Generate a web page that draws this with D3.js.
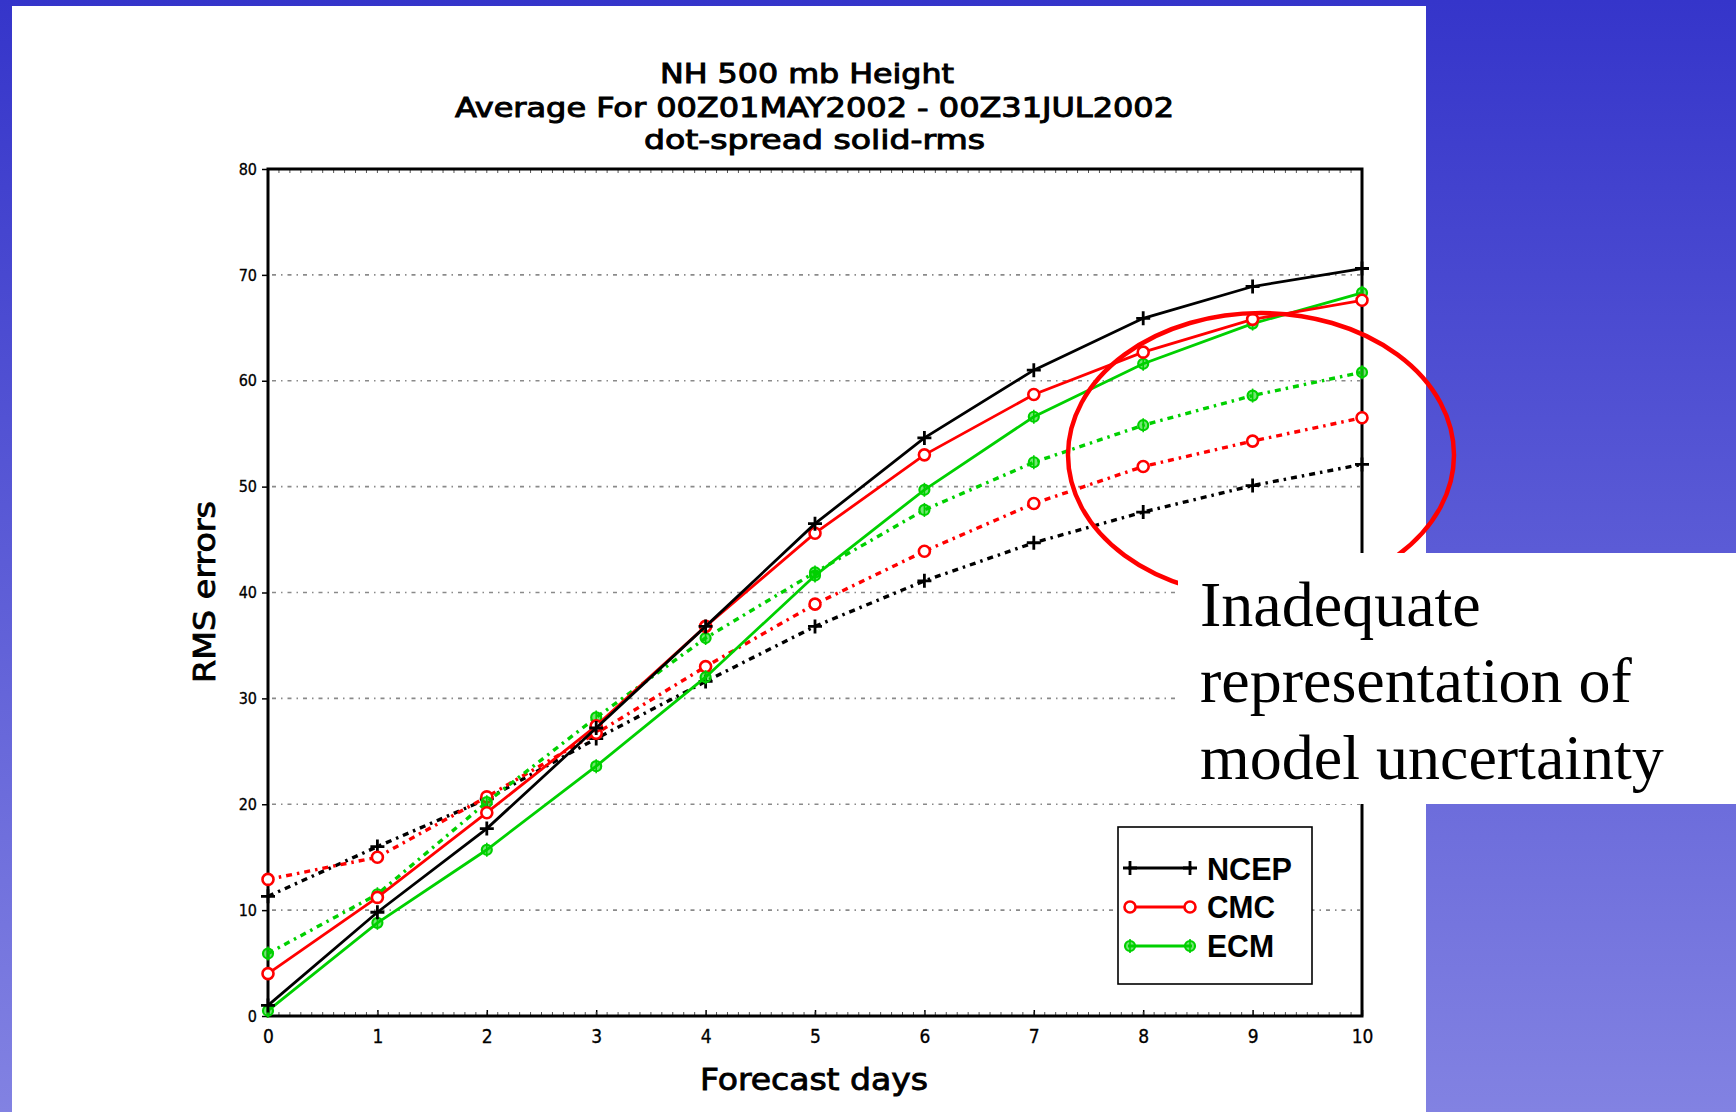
<!DOCTYPE html>
<html>
<head>
<meta charset="utf-8">
<script src="https://cdn.jsdelivr.net/npm/d3@7"></script>
<style>
  html, body { margin: 0; padding: 0; background: #fff; }
  svg { display: block; }
</style>
</head>
<body>
<svg id="chart" width="1736" height="1112"></svg>
<script>
// ---------- data ----------
const days = [0, 1, 2, 3, 4, 5, 6, 7, 8, 9, 10];
const xTicks = [0, 1, 2, 3, 4, 5, 6, 7, 8, 9, 10];
const yTicks = [0, 10, 20, 30, 40, 50, 60, 70, 80];
const gridTicks = [10, 20, 30, 40, 50, 60, 70];

const ncepRms    = [1.0, 9.8, 17.7, 27.2, 36.8, 46.5, 54.6, 61.0, 65.9, 68.9, 70.6];
const cmcRms     = [4.0, 11.2, 19.2, 27.4, 36.8, 45.6, 53.0, 58.7, 62.7, 65.8, 67.6];
const ecmRms     = [0.5, 8.8, 15.7, 23.6, 32.0, 41.6, 49.7, 56.6, 61.6, 65.4, 68.3];
const ncepSpread = [11.3, 16.0, 20.5, 26.2, 31.6, 36.8, 41.1, 44.7, 47.6, 50.1, 52.1];
const cmcSpread  = [12.9, 15.0, 20.7, 26.7, 33.0, 38.9, 43.9, 48.4, 51.9, 54.3, 56.5];
const ecmSpread  = [5.9, 11.5, 20.2, 28.2, 35.7, 41.9, 47.8, 52.3, 55.8, 58.6, 60.8];

const legendNames = ["NCEP", "CMC", "ECM"];
const titleLines = ["NH 500 mb Height", "Average For 00Z01MAY2002 - 00Z31JUL2002", "dot-spread solid-rms"];
const xLabel = "Forecast days";
const yLabel = "RMS errors";
const noteLines = ["Inadequate", "representation of", "model uncertainty"];

// ---------- setup ----------
const svg = d3.select("#chart");
const W = 1736, H = 1112;
const narrow = "'DejaVu Sans Condensed', 'DejaVu Sans', sans-serif";

const defs = svg.append("defs");
const grad = defs.append("linearGradient").attr("id", "bg").attr("x1", 0).attr("y1", 0).attr("x2", 0).attr("y2", 1);
grad.append("stop").attr("offset", "0%").attr("stop-color", "#3535ca");
grad.append("stop").attr("offset", "100%").attr("stop-color", "#8282e2");

svg.append("rect").attr("x", 0).attr("y", 0).attr("width", W).attr("height", H).attr("fill", "url(#bg)");
svg.append("rect").attr("x", 12).attr("y", 6).attr("width", 1414).attr("height", H - 6).attr("fill", "#fff");

const x = d3.scaleLinear().domain([0, 10]).range([268, 1362]);
const y = d3.scaleLinear().domain([0, 80]).range([1016, 169]);

// grid
svg.append("g").selectAll("line").data(gridTicks).join("line")
  .attr("x1", x(0) + 4).attr("x2", x(10) - 2)
  .attr("y1", d => y(d)).attr("y2", d => y(d))
  .attr("stroke", "#8a8a8a").attr("stroke-width", 1.6)
  .attr("stroke-dasharray", "4,5,1.5,5");

// title
const titleY = [83, 117, 149];
const titleCx = [807, 814.5, 814.5];
const titleLen = [294, 719, 341];
svg.append("g").selectAll("text").data(titleLines).join("text")
  .attr("x", (d, i) => titleCx[i]).attr("y", (d, i) => titleY[i])
  .attr("text-anchor", "middle")
  .attr("font-family", narrow).attr("font-size", 27)
  .attr("textLength", (d, i) => titleLen[i]).attr("lengthAdjust", "spacingAndGlyphs")
  .attr("fill", "#000").attr("stroke", "#000").attr("stroke-width", 0.9)
  .text(d => d);

// axes
const yAxis = d3.axisLeft(y).tickValues(yTicks).tickSize(6).tickPadding(5).tickFormat(d3.format("d"));
const gy = svg.append("g").attr("transform", `translate(${x(0)},0)`).call(yAxis);
gy.select(".domain").remove();
gy.selectAll(".tick line").attr("stroke", "#000").attr("stroke-width", 1.5);
gy.selectAll(".tick text").attr("font-family", narrow).attr("font-size", 16).attr("fill", "#000")
  .attr("stroke", "#000").attr("stroke-width", 0.3);

const xAxis = d3.axisBottom(x).tickValues(xTicks).tickSize(-6).tickPadding(14).tickFormat(d3.format("d"));
const gx = svg.append("g").attr("transform", `translate(0,${y(0)})`).call(xAxis);
gx.select(".domain").remove();
gx.selectAll(".tick line").attr("stroke", "#000").attr("stroke-width", 1.5);
gx.selectAll(".tick text").attr("font-family", narrow).attr("font-size", 19).attr("fill", "#000")
  .attr("stroke", "#000").attr("stroke-width", 0.3);

// minor ticks top & bottom
const minor = d3.range(0, 101).map(i => i / 10);
svg.append("g").selectAll("line").data(minor).join("line")
  .attr("x1", d => x(d)).attr("x2", d => x(d))
  .attr("y1", y(80)).attr("y2", y(80) + 4)
  .attr("stroke", "#555").attr("stroke-width", 1);
svg.append("g").selectAll("line").data(minor).join("line")
  .attr("x1", d => x(d)).attr("x2", d => x(d))
  .attr("y1", y(0)).attr("y2", y(0) - 4)
  .attr("stroke", "#555").attr("stroke-width", 1);

// frame
svg.append("rect").attr("x", x(0)).attr("y", y(80)).attr("width", x(10) - x(0)).attr("height", y(0) - y(80))
  .attr("fill", "none").attr("stroke", "#000").attr("stroke-width", 3);

// axis titles
svg.append("text").attr("x", 814).attr("y", 1090).attr("text-anchor", "middle")
  .attr("font-family", narrow).attr("font-size", 31)
  .attr("textLength", 228).attr("lengthAdjust", "spacingAndGlyphs")
  .attr("fill", "#000").attr("stroke", "#000").attr("stroke-width", 0.8).text(xLabel);
svg.append("text").attr("transform", "translate(215,592) rotate(-90)").attr("text-anchor", "middle")
  .attr("font-family", narrow).attr("font-size", 31)
  .attr("textLength", 182).attr("lengthAdjust", "spacingAndGlyphs")
  .attr("fill", "#000").attr("stroke", "#000").attr("stroke-width", 0.8).text(yLabel);

// series
const series = [
  { vals: ncepSpread, color: "#000000", dash: "6,5,2.5,5", marker: "plus" },
  { vals: cmcSpread,  color: "#ff0000", dash: "6,5,2.5,5", marker: "circle" },
  { vals: ecmSpread,  color: "#00d000", dash: "6,5,2.5,5", marker: "ecm" },
  { vals: ecmRms,     color: "#00d000", dash: null, marker: "ecm" },
  { vals: cmcRms,     color: "#ff0000", dash: null, marker: "circle" },
  { vals: ncepRms,    color: "#000000", dash: null, marker: "plus" }
];
const line = d3.line().x((d, i) => x(days[i])).y(d => y(d));

function drawMarker(g, type, cx, cy, color) {
  if (type === "plus") {
    g.append("path").attr("d", `M${cx - 7},${cy}H${cx + 7}M${cx},${cy - 7}V${cy + 7}`)
      .attr("stroke", color).attr("stroke-width", 2.8).attr("fill", "none");
  } else if (type === "circle") {
    g.append("circle").attr("cx", cx).attr("cy", cy).attr("r", 5.5)
      .attr("stroke", color).attr("stroke-width", 2.6).attr("fill", "#fff");
  } else {
    g.append("circle").attr("cx", cx).attr("cy", cy).attr("r", 5)
      .attr("stroke", color).attr("stroke-width", 2.2).attr("fill", color).attr("fill-opacity", 0.55);
    g.append("path").attr("d", `M${cx},${cy - 7}V${cy + 7}`)
      .attr("stroke", color).attr("stroke-width", 1.6);
  }
}

series.forEach(s => {
  const g = svg.append("g");
  g.append("path").datum(s.vals).attr("d", line)
    .attr("fill", "none").attr("stroke", s.color)
    .attr("stroke-width", s.dash ? 3.4 : 2.8)
    .attr("stroke-dasharray", s.dash);
  s.vals.forEach((v, i) => drawMarker(g, s.marker, x(days[i]), y(v), s.color));
});

// legend
const lg = svg.append("g");
lg.append("rect").attr("x", 1118).attr("y", 827).attr("width", 194).attr("height", 157)
  .attr("fill", "#fff").attr("stroke", "#000").attr("stroke-width", 1.6);
const legColors = ["#000000", "#ff0000", "#00d000"];
const legMarkers = ["plus", "circle", "ecm"];
const legY = [868, 907, 946];
const legBase = [880, 918, 957];
const legLen = [85, 68, 67];
legendNames.forEach((name, i) => {
  lg.append("line").attr("x1", 1128).attr("x2", 1192).attr("y1", legY[i]).attr("y2", legY[i])
    .attr("stroke", legColors[i]).attr("stroke-width", 2.8);
  drawMarker(lg, legMarkers[i], 1130, legY[i], legColors[i]);
  drawMarker(lg, legMarkers[i], 1190, legY[i], legColors[i]);
  lg.append("text").attr("x", 1207).attr("y", legBase[i])
    .attr("font-family", "'Liberation Sans', Arial, sans-serif").attr("font-weight", "bold")
    .attr("font-size", 32).attr("textLength", legLen[i]).attr("lengthAdjust", "spacingAndGlyphs")
    .attr("fill", "#000").text(name);
});

// annotation ellipse
svg.append("ellipse").attr("cx", 1261).attr("cy", 455).attr("rx", 193).attr("ry", 142)
  .attr("fill", "none").attr("stroke", "#ff0000").attr("stroke-width", 4.5);

// annotation box
svg.append("rect").attr("x", 1178).attr("y", 553).attr("width", W - 1178).attr("height", 251).attr("fill", "#fff");
const noteBase = [626, 702, 779];
svg.append("g").selectAll("text").data(noteLines).join("text")
  .attr("x", 1200).attr("y", (d, i) => noteBase[i])
  .attr("font-family", "'Liberation Serif', 'Times New Roman', serif").attr("font-size", 64)
  .attr("fill", "#000").text(d => d);
</script>
</body>
</html>
